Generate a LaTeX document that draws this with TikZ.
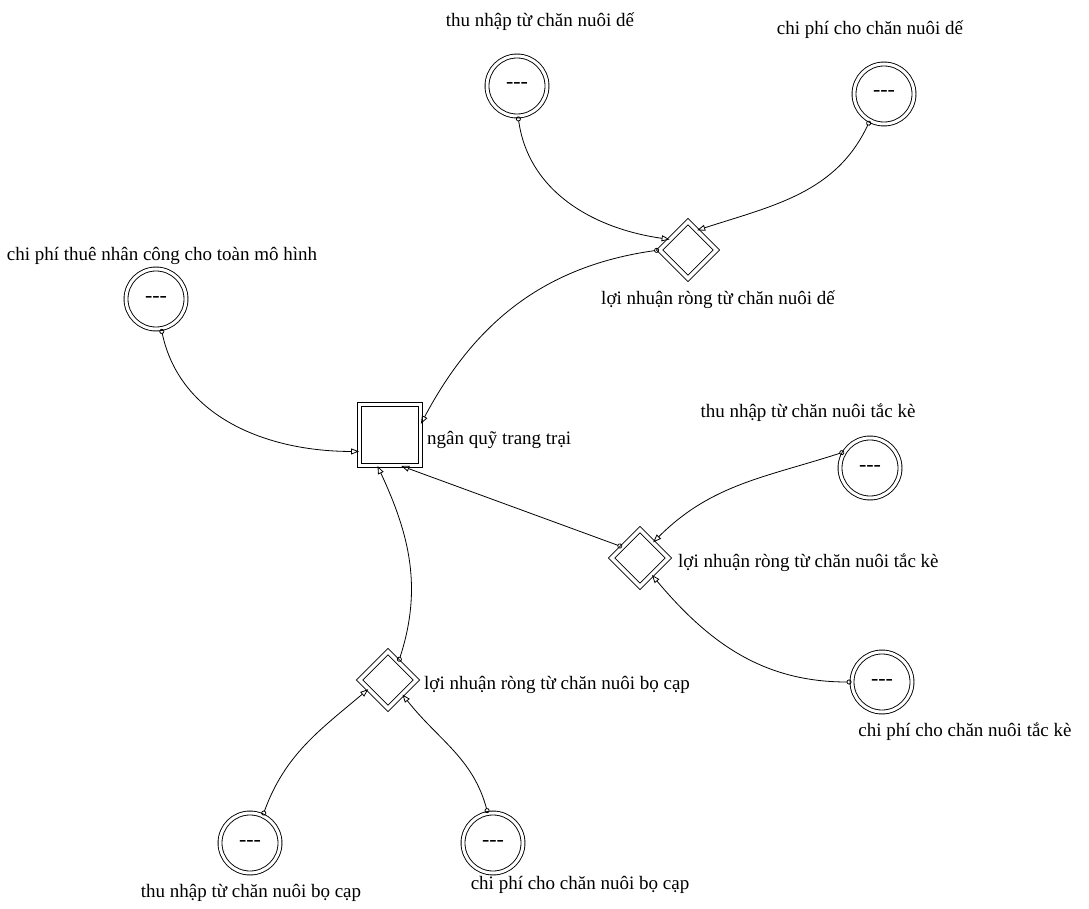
\documentclass[tikz,border=0pt]{standalone}
\usepackage{fontspec}
\setmainfont{Liberation Serif}
\usetikzlibrary{arrows.meta,shapes.geometric}
\begin{document}
\begin{tikzpicture}[x=1pt,y=1pt,
  lbl/.style={font=\fontsize{19}{21}\selectfont, inner sep=0pt},
  conv/.style={circle, draw, double, double distance=3pt, line width=0.9pt, minimum size=60pt, inner sep=0pt, font=\fontsize{22}{22}\selectfont},
  stock/.style={rectangle, draw, double, double distance=3.5pt, line width=0.9pt, minimum size=61pt, inner sep=0pt},
  flowbox/.style={diamond, draw, double, double distance=3.5pt, line width=0.9pt, minimum width=57pt, minimum height=57pt, inner sep=0pt, aspect=1},
  link/.style={line width=0.8pt, {Circle[open,length=5pt,width=5pt]}-{Triangle[open,length=8pt,width=6pt]}}
]
\useasboundingbox (0,0) rectangle (1089,-909);
% converters
\node[conv] (c1) at (517,-86) {-{}-{}-};
\node[conv] (c2) at (884,-94) {-{}-{}-};
\node[conv] (c3) at (156,-299) {-{}-{}-};
\node[conv] (c4) at (870,-468) {-{}-{}-};
\node[conv] (c5) at (882,-682) {-{}-{}-};
\node[conv] (c6) at (250,-843) {-{}-{}-};
\node[conv] (c7) at (493,-843) {-{}-{}-};
% flows
\node[flowbox] (d1) at (688,-250) {};
\node[flowbox] (d2) at (640,-558) {};
\node[flowbox] (d3) at (388,-680) {};
% stock
\node[stock] (s) at (390,-435) {};
% labels
\node[lbl] (l1) at (540,-22) {thu nhập từ chăn nuôi dế};
\node[lbl] (l2) at (870,-30) {chi phí cho chăn nuôi dế};
\node[lbl] (l3) at (162,-256) {chi phí thuê nhân công cho toàn mô hình};
\node[lbl] (l4) at (718,-300) {lợi nhuận ròng từ chăn nuôi dế};
\node[lbl,anchor=west] (l5) at (427,-440) {ngân quỹ trang trại};
\node[lbl] (l6) at (808,-413) {thu nhập từ chăn nuôi tắc kè};
\node[lbl,anchor=west] (l7) at (678,-563) {lợi nhuận ròng từ chăn nuôi tắc kè};
\node[lbl] (l8) at (965,-732) {chi phí cho chăn nuôi tắc kè};
\node[lbl,anchor=west] (l9) at (424,-685) {lợi nhuận ròng từ chăn nuôi bọ cạp};
\node[lbl] (l10) at (251,-893) {thu nhập từ chăn nuôi bọ cạp};
\node[lbl] (l11) at (580,-885) {chi phí cho chăn nuôi bọ cạp};
% connectors
\draw[link] (c1.-88) to[out=-82,in=172] (d1.150);
\draw[link] (c2.242) to[out=-115,in=18] (d1.65);
\draw[link] (d1.180) to[out=188,in=62] (s.20);
\draw[link] (c3.-80) to[out=-78,in=180] (s.208);
\draw[link] (c4.148) to[out=198,in=45] (d2.50);
\draw[link] (d2.148) -- (s.-70);
\draw[link] (c5.180) to[out=180,in=-50] (d2.-55);
\draw[link] (d3.60) to[out=72,in=-65] (s.-112);
\draw[link] (c6.65) to[out=70,in=220] (d3.205);
\draw[link] (c7.100) to[out=105,in=-52] (d3.-45);
\end{tikzpicture}
\end{document}
